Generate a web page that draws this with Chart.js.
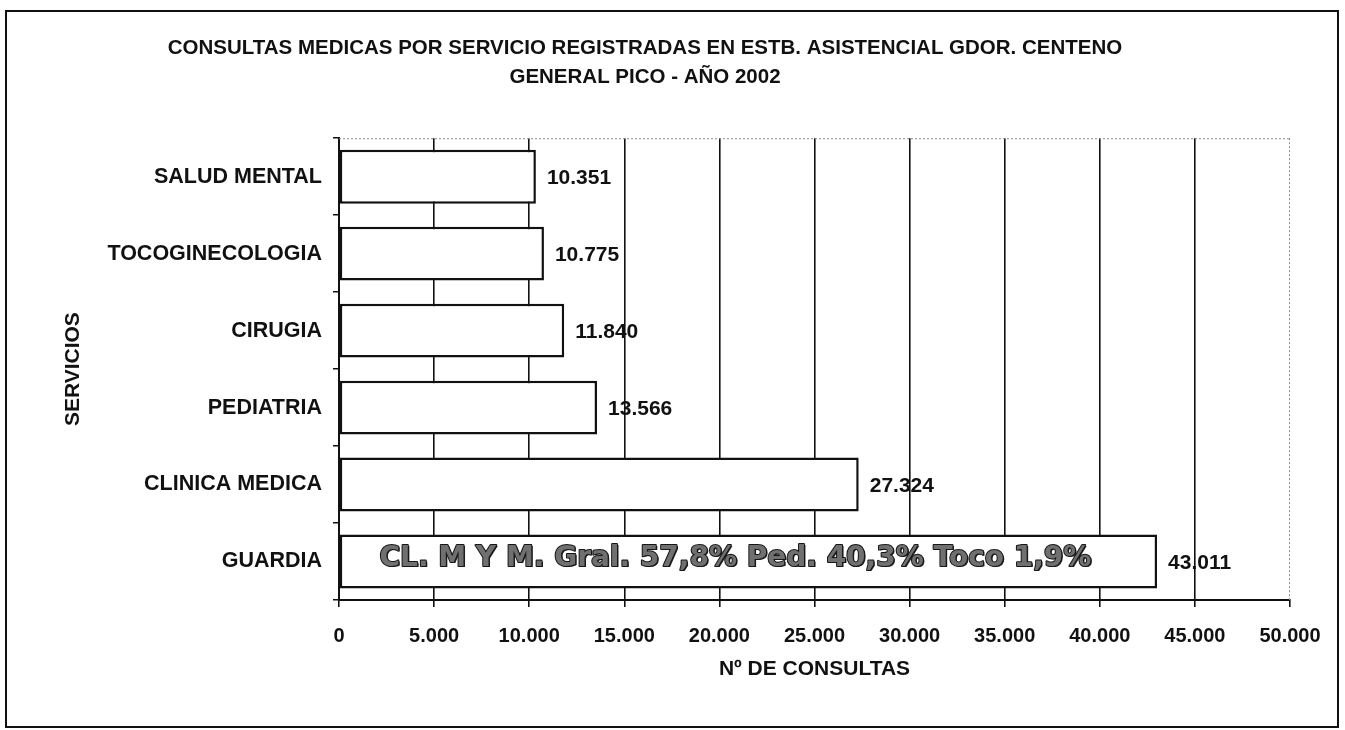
<!DOCTYPE html>
<html>
<head>
<meta charset="utf-8">
<script src="https://cdn.jsdelivr.net/npm/chart.js@4/dist/chart.umd.min.js"></script>
<style>
  html, body { margin: 0; padding: 0; background: #ffffff; }
  #wrap { width: 1345px; height: 730px; }
</style>
</head>
<body>
<div id="wrap"><canvas id="c" width="1345" height="730"></canvas></div>
<script>
// ---- Data ----
const categories = ['SALUD MENTAL', 'TOCOGINECOLOGIA', 'CIRUGIA', 'PEDIATRIA', 'CLINICA MEDICA', 'GUARDIA'];
const consultas = [10351, 10775, 11840, 13566, 27324, 43011];
const xTickValues = [0, 5000, 10000, 15000, 20000, 25000, 30000, 35000, 40000, 45000, 50000];
const titleLines = ['CONSULTAS MEDICAS POR SERVICIO REGISTRADAS EN ESTB. ASISTENCIAL GDOR. CENTENO', 'GENERAL PICO - AÑO 2002'];
const xTitle = 'Nº DE CONSULTAS';
const yTitle = 'SERVICIOS';
const guardiaNote = 'CL. M Y M. Gral. 57,8% Ped. 40,3% Toco 1,9%';
const noteCategory = 'GUARDIA';

const FONT = '"Liberation Sans", Arial, Helvetica, sans-serif';

function fmt(v) {
  return String(Math.round(v)).replace(/\B(?=(\d{3})+(?!\d))/g, '.');
}

const bgPlugin = {
  id: 'bg',
  beforeDraw(chart) {
    const ctx = chart.ctx;
    ctx.save();
    ctx.fillStyle = '#ffffff';
    ctx.fillRect(0, 0, chart.width, chart.height);
    ctx.restore();
  },
  afterDraw(chart) {
    const ctx = chart.ctx;
    ctx.save();
    ctx.strokeStyle = '#111';
    ctx.lineWidth = 2;
    ctx.strokeRect(6, 11, chart.width - 13, chart.height - 14);
    ctx.restore();
  }
};

const frameLines = {
  id: 'frameLines',
  beforeDatasetsDraw(chart) {
    const {ctx, chartArea: a} = chart;
    ctx.save();
    ctx.strokeStyle = '#8a8a8a';
    ctx.lineWidth = 1;
    ctx.setLineDash([2, 2]);
    ctx.beginPath();
    ctx.moveTo(a.left, a.top + 0.5);
    ctx.lineTo(a.right, a.top + 0.5);
    ctx.moveTo(a.right - 0.5, a.top);
    ctx.lineTo(a.right - 0.5, a.bottom);
    ctx.stroke();
    ctx.restore();
  }
};

const valueLabels = {
  id: 'valueLabels',
  afterDatasetsDraw(chart) {
    const ctx = chart.ctx;
    const meta = chart.getDatasetMeta(0);
    ctx.save();
    ctx.font = 'bold 21px ' + FONT;
    ctx.fillStyle = '#111';
    ctx.textAlign = 'left';
    ctx.textBaseline = 'middle';
    meta.data.forEach((bar, i) => {
      ctx.fillText(fmt(consultas[i]), bar.x + 11, bar.y + 2);
    });
    // note inside GUARDIA bar
    const idx = categories.indexOf(noteCategory);
    const b = meta.data[idx];
    ctx.font = 'bold 28px "DejaVu Sans", sans-serif';
    ctx.textAlign = 'center';
    const cx = (b.base + b.x) / 2 - 13;
    const cy = b.y - 3;
    ctx.lineJoin = 'round';
    ctx.fillStyle = '#222';
    ctx.fillText(guardiaNote, cx + 1.5, cy + 1.5);
    ctx.strokeStyle = '#161616';
    ctx.lineWidth = 2;
    ctx.strokeText(guardiaNote, cx, cy);
    ctx.fillStyle = '#707070';
    ctx.fillText(guardiaNote, cx, cy);
    ctx.restore();
  }
};

new Chart(document.getElementById('c'), {
  type: 'bar',
  data: {
    labels: categories,
    datasets: [{
      data: consultas,
      backgroundColor: '#ffffff',
      borderColor: '#111111',
      borderWidth: 2.5,
      borderSkipped: false,
      barPercentage: 0.7,
      categoryPercentage: 1.0
    }]
  },
  options: {
    indexAxis: 'y',
    responsive: false,
    animation: false,
    devicePixelRatio: 1,
    layout: { padding: { left: 0, right: 55, top: 20, bottom: 30 } },
    plugins: {
      legend: { display: false },
      tooltip: { enabled: false },
      title: {
        display: true,
        text: titleLines,
        color: '#111',
        font: { family: FONT, size: 20.5, weight: 'bold', lineHeight: 1.42 },
        padding: { top: 14, bottom: 46 }
      }
    },
    scales: {
      x: {
        type: 'linear',
        min: 0,
        max: 50000,
        afterBuildTicks(scale) { scale.ticks = xTickValues.map(v => ({ value: v })); },
        afterFit(scale) { scale.height = 100; },
        ticks: {
          color: '#111',
          font: { family: FONT, size: 20, weight: 'bold' },
          padding: 17,
          maxRotation: 0,
          autoSkip: false,
          callback: v => fmt(v)
        },
        grid: {
          color: ctx => (ctx.tick && ctx.tick.value === 50000) ? 'rgba(0,0,0,0)' : '#111',
          tickColor: '#111',
          lineWidth: 1.6,
          tickLength: 7,
          drawTicks: true
        },
        border: { display: true, color: '#111', width: 2 },
        title: {
          display: true,
          text: xTitle,
          color: '#111',
          font: { family: FONT, size: 21, weight: 'bold' },
          padding: { top: 0, bottom: 18 }
        }
      },
      y: {
        afterFit(scale) { scale.width = 339; },
        ticks: {
          color: '#111',
          font: { family: FONT, size: 21.5, weight: 'bold' },
          padding: 11
        },
        grid: {
          drawOnChartArea: false,
          drawTicks: true,
          tickLength: 6,
          color: '#111',
          lineWidth: 1.5
        },
        border: { display: true, color: '#111', width: 2 },
        title: {
          display: true,
          text: yTitle,
          color: '#111',
          font: { family: FONT, size: 21, weight: 'bold' },
          padding: { top: 61, bottom: 0 }
        }
      }
    }
  },
  plugins: [bgPlugin, frameLines, valueLabels]
});
</script>
</body>
</html>
